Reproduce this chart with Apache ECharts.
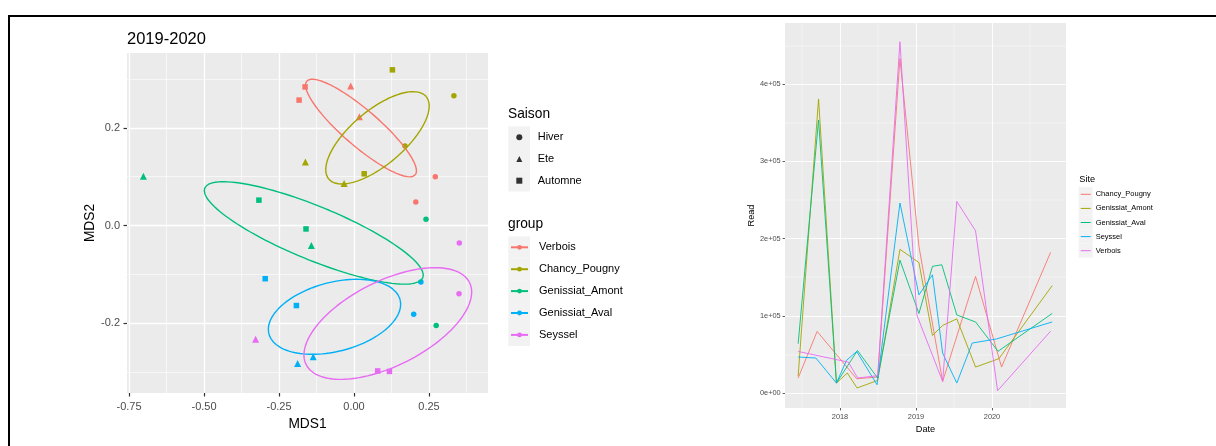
<!DOCTYPE html>
<html><head><meta charset="utf-8">
<script src="https://cdn.jsdelivr.net/npm/echarts@6/dist/echarts.min.js"></script>
<style>html,body{margin:0;padding:0;background:#fff}#c{width:1216px;height:446px}</style>
</head><body><div id="c"></div>
<script>
// ---------- Left panel: MDS ordination ----------
const groups = ['Verbois', 'Chancy_Pougny', 'Genissiat_Amont', 'Genissiat_Aval', 'Seyssel'];
const groupColors = ['#F8766D', '#A3A500', '#00BF7D', '#00B0F6', '#E76BF3'];
const seasons = ['Hiver', 'Ete', 'Automne'];

// points: [MDS1, MDS2, Saison]
const verboisPts = [[-0.163, 0.284, 'Automne'], [-0.183, 0.257, 'Automne'], [-0.011, 0.286, 'Ete'], [0.018, 0.223, 'Ete'], [0.271, 0.100, 'Hiver'], [0.206, 0.048, 'Hiver']];
const chancyPts = [[0.128, 0.319, 'Automne'], [0.333, 0.266, 'Hiver'], [-0.162, 0.130, 'Ete'], [0.034, 0.106, 'Automne'], [-0.033, 0.086, 'Ete'], [0.170, 0.163, 'Hiver']];
const amontPts = [[-0.702, 0.101, 'Ete'], [-0.317, 0.052, 'Automne'], [-0.160, -0.007, 'Automne'], [-0.142, -0.041, 'Ete'], [0.240, 0.013, 'Hiver'], [0.274, -0.205, 'Hiver']];
const avalPts = [[-0.296, -0.109, 'Automne'], [-0.192, -0.164, 'Automne'], [0.223, -0.116, 'Hiver'], [0.199, -0.182, 'Hiver'], [-0.188, -0.283, 'Ete'], [-0.136, -0.269, 'Ete']];
const seysselPts = [[0.351, -0.036, 'Hiver'], [0.350, -0.140, 'Hiver'], [-0.328, -0.233, 'Ete'], [0.079, -0.298, 'Automne'], [0.118, -0.299, 'Automne']];
const groupPts = [verboisPts, chancyPts, amontPts, avalPts, seysselPts];

// confidence ellipses (stat_ellipse) : centre and two conjugate semi-axes, data units
const ellCenter = [[0.0233, 0.1998], [0.0783, 0.1797], [-0.134, -0.0152], [-0.065, -0.1871], [0.1127, -0.2008]];
const ellAxisU = [[0.1807, -0.0961], [0.1623, 0.0846], [0.3635, -0.0918], [0.2187, 0.0350], [0.2723, 0.0842]];
const ellAxisV = [[-0.0393, -0.0279], [0.0583, -0.0424], [-0.0340, -0.0508], [0.0290, -0.0684], [0.0633, -0.0775]];

const lxTicks = [-0.75, -0.5, -0.25, 0, 0.25];
const lxTickLabels = ['-0.75', '-0.50', '-0.25', '0.00', '0.25'];
const lxMinor = [-0.625, -0.375, -0.125, 0.125, 0.375];
const lyTicks = [-0.2, 0, 0.2];
const lyTickLabels = ['-0.2', '0.0', '0.2'];
const lyMinor = [-0.3, -0.1, 0.1, 0.3];

// ---------- Right panel: Read over time ----------
const sites = ['Chancy_Pougny', 'Genissiat_Amont', 'Genissiat_Aval', 'Seyssel', 'Verbois'];
const siteColors = ['#F8766D', '#A3A500', '#00BF7D', '#00B0F6', '#E76BF3'];
const chancyDates = ['2017-06-14', '2017-09-13', '2018-03-22', '2018-07-01', '2018-10-16', '2019-01-15', '2019-05-09', '2019-10-14', '2020-02-16', '2020-10-09'];
const chancyRead = [19400, 79700, 18500, 20700, 433000, 190000, 15000, 151000, 33600, 182000];
const amontDates = ['2017-06-14', '2017-09-20', '2017-12-15', '2018-02-05', '2018-03-24', '2018-07-01', '2018-10-16', '2019-01-15', '2019-03-21', '2019-05-09', '2019-07-16', '2019-10-14', '2020-02-03', '2020-10-17'];
const amontRead = [22000, 380700, 12900, 25900, 6500, 16300, 186000, 169000, 74500, 87500, 96000, 33600, 44400, 139000];
const avalDates = ['2017-06-14', '2017-09-20', '2017-12-15', '2018-03-26', '2018-07-01', '2018-10-16', '2019-01-15', '2019-03-21', '2019-05-05', '2019-07-16', '2019-10-14', '2020-01-30', '2020-10-17'];
const avalRead = [63800, 353500, 12900, 55000, 19400, 172000, 103000, 164000, 166000, 101000, 92000, 54000, 103000];
const seysselDates = ['2017-06-14', '2017-09-07', '2017-12-15', '2018-02-01', '2018-03-22', '2018-06-28', '2018-10-16', '2019-01-15', '2019-03-21', '2019-05-09', '2019-07-16', '2019-09-28', '2020-01-23', '2020-10-17'];
const seysselRead = [46600, 45300, 12900, 42200, 53800, 10700, 246000, 127000, 153000, 51700, 12900, 64700, 70000, 92000];
const verboisDates = ['2017-06-14', '2018-02-10', '2018-03-27', '2018-07-01', '2018-10-16', '2019-01-05', '2019-05-09', '2019-07-16', '2019-10-14', '2020-01-28', '2020-10-09'];
const verboisRead = [53800, 40000, 19400, 22400, 454800, 101000, 15000, 248000, 210000, 3000, 80000];
const siteDates = [chancyDates, amontDates, avalDates, seysselDates, verboisDates];
const siteRead = [chancyRead, amontRead, avalRead, seysselRead, verboisRead];

const rxTicks = [2018, 2019, 2020];
const rxTickLabels = ['2018', '2019', '2020'];
const rxMinor = [2017.5, 2018.5, 2019.5, 2020.5];
const ryTicks = [0, 100000, 200000, 300000, 400000];
const ryTickLabels = ['0e+00', '1e+05', '2e+05', '3e+05', '4e+05'];
const ryMinor = [50000, 150000, 250000, 350000, 450000];

// ---------- helpers ----------
const FONT = '"Liberation Sans", Arial, Helvetica, sans-serif';
const SITE_PREFIX = 'site:';
function labelFrom(vals, labels) {
  return function (v) {
    for (let i = 0; i < vals.length; i++) {
      if (Math.abs(vals[i] - v) <= 1e-7 * Math.max(1, Math.abs(vals[i]))) return labels[i];
    }
    return '';
  };
}
function toYear(s) {
  const d = new Date(s + 'T00:00:00Z');
  const y = d.getUTCFullYear();
  const a = Date.UTC(y, 0, 1), b = Date.UTC(y + 1, 0, 1);
  return y + (d.getTime() - a) / (b - a);
}
function ellipsePath(c, u, v) {
  const out = [];
  const N = 120;
  for (let k = 0; k <= N; k++) {
    const t = 2 * Math.PI * k / N;
    out.push([c[0] + u[0] * Math.cos(t) + v[0] * Math.sin(t), c[1] + u[1] * Math.cos(t) + v[1] * Math.sin(t)]);
  }
  return out;
}
const seasonSymbol = { Hiver: 'circle', Ete: 'triangle', Automne: 'rect' };
const seasonSize = { Hiver: 5.5, Ete: 7, Automne: 5.5 };

const L = { left: 127, top: 53, width: 361, height: 340, xmin: -0.7567, xmax: 0.4467, ymin: -0.3432, ymax: 0.3535 };
const R = { left: 785, top: 23, width: 281, height: 385, xmin: 2017.2763, xmax: 2020.9737, ymin: -19405, ymax: 479042 };

function majorAxis(grid, min, max, ticks, labels, o) {
  return {
    type: 'value', gridIndex: grid, min: min, max: max, position: o.position,
    axisLine: { show: false, onZero: false },
    axisTick: { show: true, inside: false, length: o.tickLen, customValues: ticks, lineStyle: { color: '#333333', width: o.tickW } },
    axisLabel: { show: true, customValues: ticks, formatter: labelFrom(ticks, labels), fontSize: o.fs, color: '#4D4D4D', margin: o.margin, fontFamily: FONT, showMinLabel: true, showMaxLabel: true, hideOverlap: false },
    splitLine: { show: true, lineStyle: { color: '#FFFFFF', width: o.gridW } },
    minorTick: { show: false }, minorSplitLine: { show: false },
    name: o.name, nameLocation: 'middle', nameGap: o.nameGap, nameRotate: o.nameRotate,
    nameTextStyle: { fontSize: o.nfs, color: '#000000', fontFamily: FONT }
  };
}
function minorAxis(grid, min, max, ticks, w, pos) {
  return {
    type: 'value', gridIndex: grid, min: min, max: max, position: pos,
    axisLine: { show: false, onZero: false },
    axisTick: { show: false, customValues: ticks },
    axisLabel: { show: false, customValues: ticks },
    splitLine: { show: true, lineStyle: { color: '#FFFFFF', width: w } }
  };
}

const series = [];
// ellipses (first so legend icons come from them)
groups.forEach((g, i) => {
  series.push({
    type: 'line', name: g, xAxisIndex: 0, yAxisIndex: 0,
    data: ellipsePath(ellCenter[i], ellAxisU[i], ellAxisV[i]),
    showSymbol: false, symbol: 'circle', symbolSize: 5, smooth: false, silent: true,
    color: groupColors[i], lineStyle: { color: groupColors[i], width: 1.4 }, itemStyle: { color: groupColors[i] },
    z: 3, animation: false
  });
});
groups.forEach((g, i) => {
  series.push({
    type: 'scatter', name: g, xAxisIndex: 0, yAxisIndex: 0,
    data: groupPts[i].map(p => ({ value: [p[0], p[1]], symbol: seasonSymbol[p[2]], symbolSize: seasonSize[p[2]] })),
    itemStyle: { color: groupColors[i], opacity: 1 }, silent: true, z: 2, animation: false
  });
});
seasons.forEach(s => {
  series.push({ type: 'scatter', name: s, xAxisIndex: 0, yAxisIndex: 0, data: [], symbol: seasonSymbol[s], itemStyle: { color: '#000000' } });
});
sites.forEach((s, i) => {
  series.push({
    type: 'line', name: SITE_PREFIX + s, xAxisIndex: 2, yAxisIndex: 2,
    data: siteDates[i].map((d, k) => [toYear(d), siteRead[i][k]]),
    showSymbol: false, symbol: 'none', smooth: false, silent: true,
    color: siteColors[i], lineStyle: { color: siteColors[i], width: 0.9 }, itemStyle: { color: siteColors[i] }, z: 3, animation: false
  });
});

// light-grey legend key backgrounds (ggplot legend.key)
const keyBg = [];
for (let k = 0; k < 3; k++) keyBg.push({ type: 'rect', z: 1, shape: { x: 508.3, y: 126.4 + k * 21.7, width: 21.7, height: 21.7 }, style: { fill: '#F2F2F2' } });
for (let k = 0; k < 5; k++) keyBg.push({ type: 'rect', z: 1, shape: { x: 508.3, y: 236.4 + k * 21.9, width: 21.7, height: 21.9 }, style: { fill: '#F2F2F2' } });
for (let k = 0; k < 5; k++) keyBg.push({ type: 'rect', z: 1, shape: { x: 1078.7, y: 187.2 + k * 14.1, width: 14, height: 14.1 }, style: { fill: '#F2F2F2' } });

const option = {
  backgroundColor: '#FFFFFF',
  animation: false,
  textStyle: { fontFamily: FONT },
  title: [
    { text: '2019-2020', left: 127, top: 31.2, padding: 0, textStyle: { fontSize: 16.5, lineHeight: 17, fontWeight: 'normal', color: '#000000', fontFamily: FONT } },
    { text: 'Saison', left: 508, top: 106.8, padding: 0, textStyle: { fontSize: 13.75, lineHeight: 14, fontWeight: 'normal', color: '#000000', fontFamily: FONT } },
    { text: 'group', left: 508, top: 216.8, padding: 0, textStyle: { fontSize: 13.75, lineHeight: 14, fontWeight: 'normal', color: '#000000', fontFamily: FONT } },
    { text: 'Site', left: 1079.3, top: 174.7, padding: 0, textStyle: { fontSize: 9.2, lineHeight: 9.2, fontWeight: 'normal', color: '#000000', fontFamily: FONT } }
  ],
  legend: [
    { data: seasons, orient: 'vertical', left: 516.3, top: 131.3, padding: 0, itemWidth: 6, itemHeight: 6, itemGap: 9.7, selectedMode: false, z: 5,
      textStyle: { fontSize: 11, lineHeight: 12, color: '#000000', fontFamily: FONT, padding: [0, 0, 0, 10.4] } },
    { data: groups, orient: 'vertical', left: 510, top: 241.3, padding: 0, itemWidth: 17, itemHeight: 6, itemGap: 9.9, selectedMode: false, z: 5,
      textStyle: { fontSize: 11, lineHeight: 12, color: '#000000', fontFamily: FONT, padding: [0, 0, 0, 6] } },
    { data: sites.map(s => SITE_PREFIX + s), formatter: n => n.slice(SITE_PREFIX.length), orient: 'vertical', left: 1080.7, top: 190.3, padding: 0, itemWidth: 10, itemHeight: 1, icon: 'rect', symbolKeepAspect: false, itemGap: 6.1, selectedMode: false, z: 5,
      textStyle: { fontSize: 7.5, lineHeight: 8, color: '#000000', fontFamily: FONT } }
  ],
  grid: [
    { left: L.left, top: L.top, width: L.width, height: L.height, show: true, backgroundColor: '#EBEBEB', borderWidth: 0, containLabel: false, outerBoundsMode: 'none' },
    { left: R.left, top: R.top, width: R.width, height: R.height, show: true, backgroundColor: '#EBEBEB', borderWidth: 0, containLabel: false, outerBoundsMode: 'none' }
  ],
  xAxis: [
    majorAxis(0, L.xmin, L.xmax, lxTicks, lxTickLabels, { position: 'bottom', tickLen: 3.5, tickW: 1.2, fs: 11, margin: 8.5, gridW: 1.3, name: 'MDS1', nameGap: 14, nfs: 13.75 }),
    minorAxis(0, L.xmin, L.xmax, lxMinor, 0.6, 'top'),
    majorAxis(1, R.xmin, R.xmax, rxTicks, rxTickLabels, { position: 'bottom', tickLen: 2.4, tickW: 0.8, fs: 7.4, margin: 5.2, gridW: 0.9, name: 'Date', nameGap: 12.5, nfs: 9.2 }),
    minorAxis(1, R.xmin, R.xmax, rxMinor, 0.45, 'top')
  ],
  yAxis: [
    majorAxis(0, L.ymin, L.ymax, lyTicks, lyTickLabels, { position: 'left', tickLen: 3.5, tickW: 1.2, fs: 11, margin: 7, gridW: 1.3, name: 'MDS2', nameGap: 26, nameRotate: 90, nfs: 13.75 }),
    minorAxis(0, L.ymin, L.ymax, lyMinor, 0.6, 'right'),
    majorAxis(1, R.ymin, R.ymax, ryTicks, ryTickLabels, { position: 'left', tickLen: 2.4, tickW: 0.8, fs: 7.4, margin: 4.3, gridW: 0.9, name: 'Read', nameGap: 25.5, nameRotate: 90, nfs: 9.2 }),
    minorAxis(1, R.ymin, R.ymax, ryMinor, 0.45, 'right')
  ],
  graphic: keyBg.concat([
    { type: 'rect', z: 10, shape: { x: 8, y: 15, width: 1208, height: 2 }, style: { fill: '#000000' } },
    { type: 'rect', z: 10, shape: { x: 8, y: 15, width: 2, height: 431 }, style: { fill: '#000000' } }
  ]),
  series: series
};

const chart = echarts.init(document.getElementById('c'), null, { renderer: 'canvas', width: 1216, height: 446 });
chart.setOption(option);
</script></body></html>
